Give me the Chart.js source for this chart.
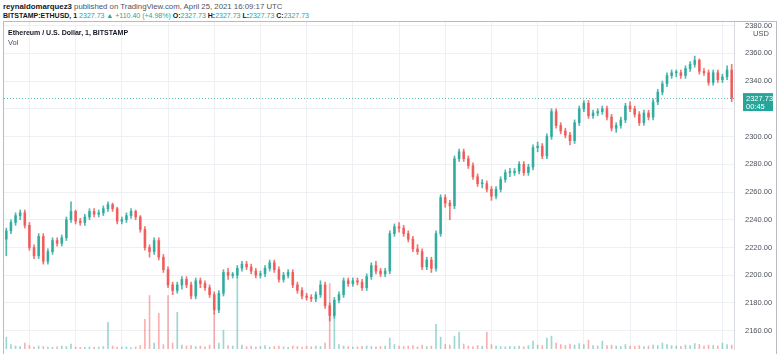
<!DOCTYPE html>
<html><head><meta charset="utf-8">
<script src="https://cdn.jsdelivr.net/npm/chart.js@4.4.1/dist/chart.umd.min.js"></script>
<style>
html,body{margin:0;padding:0;background:#fff;overflow:hidden;width:780px;height:354px;}
body{position:relative;font-family:"Liberation Sans",Arial,sans-serif;}
.t{position:absolute;left:3px;white-space:nowrap;line-height:9px;color:#50535e;}
#l1{top:2px;font-size:7.8px}
#l2{top:11px;font-size:7px}
.t b{color:#131722}
.g{color:#26a69a}
#pane{position:absolute;left:3px;top:21px;width:772px;height:340px;border:1px solid #b8bbc2;border-bottom:none}
#cv{position:absolute;left:4px;top:22px}
#leg1{position:absolute;left:8px;top:28px;font-size:7px;line-height:9px;font-weight:bold;color:#131722;white-space:nowrap}
#leg2{position:absolute;left:8px;top:38px;font-size:7.5px;line-height:9px;color:#50535e}
</style>
</head><body>
<div class="t" id="l1"><b>reynaldomarquez3</b> published on TradingView.com, April 25, 2021 16:09:17 UTC</div>
<div class="t" id="l2"><b>BITSTAMP:ETHUSD, 1</b> <span class="g">2327.73 ▲ +110.40 (+4.98%)</span> <b>O:</b><span class="g">2327.73</span> <b>H:</b><span class="g">2327.73</span> <b>L:</b><span class="g">2327.73</span> <b>C:</b><span class="g">2327.73</span></div>
<div id="pane"></div>
<canvas id="cv" width="772" height="350"></canvas>
<div id="leg1">Ethereum / U.S. Dollar, 1, BITSTAMP</div>
<div id="leg2">Vol</div>
<script>
const startTime = '08:15';
const stepMinutes = 3;
const opens = [2226,2232,2238,2243,2245,2236,2220,2214,2228,2210,
 2217,2225,2223,2227,2240,2246,2239,2238,2242,2246,
 2244,2245,2248,2251,2248,2239,2240,2243,2246,2242,
 2233,2220,2217,2225,2213,2204,2193,2189,2193,2197,
 2193,2185,2196,2194,2191,2186,2175,2187,2202,2200,
 2200,2205,2208,2206,2203,2200,2201,2205,2209,2204,
 2197,2200,2202,2193,2189,2185,2184,2183,2186,2193,
 2178,2171,2182,2186,2196,2194,2196,2195,2191,2199,
 2207,2203,2201,2203,2230,2235,2234,2230,2226,2219,
 2217,2206,2211,2205,2230,2256,2252,2250,2284,2289,
 2284,2279,2271,2266,2266,2262,2257,2262,2269,2274,
 2274,2275,2280,2274,2278,2292,2293,2286,2300,2318,
 2308,2304,2301,2297,2310,2320,2324,2315,2317,2318,
 2320,2314,2306,2308,2312,2322,2320,2316,2310,2317,
 2314,2325,2332,2338,2344,2346,2346,2344,2349,2352,
 2355,2347,2346,2339,2346,2341,2343,2348];
const highs = [2234,2240,2245,2247,2247,2238,2222,2230,2230,2219,
 2227,2227,2229,2242,2253,2247,2241,2244,2248,2248,
 2247,2250,2253,2252,2249,2242,2245,2248,2247,2243,
 2235,2222,2227,2227,2215,2206,2195,2195,2199,2199,
 2195,2198,2198,2196,2193,2188,2189,2204,2205,2202,
 2207,2210,2210,2208,2205,2203,2207,2211,2211,2206,
 2202,2204,2204,2195,2191,2187,2186,2188,2196,2195,
 2180,2184,2188,2198,2198,2198,2198,2197,2201,2209,
 2210,2205,2205,2232,2237,2238,2236,2232,2228,2222,
 2219,2213,2213,2232,2258,2258,2254,2286,2291,2291,
 2286,2281,2273,2269,2268,2264,2264,2271,2276,2277,
 2277,2282,2282,2280,2294,2296,2295,2302,2320,2320,
 2310,2306,2303,2312,2322,2326,2326,2319,2320,2322,
 2322,2316,2310,2314,2324,2325,2322,2318,2319,2319,
 2327,2334,2340,2346,2348,2348,2348,2351,2354,2358,
 2356,2349,2348,2348,2348,2345,2351,2352];
const lows = [2214,2230,2236,2240,2234,2218,2212,2212,2208,2208,
 2215,2221,2221,2225,2238,2237,2236,2236,2240,2242,
 2242,2243,2246,2246,2237,2237,2238,2241,2240,2231,
 2218,2213,2215,2211,2202,2191,2186,2187,2190,2191,
 2183,2183,2191,2189,2184,2172,2173,2185,2197,2198,
 2198,2203,2204,2201,2198,2198,2199,2203,2202,2195,
 2195,2198,2191,2187,2183,2182,2181,2181,2184,2176,
 2167,2169,2180,2184,2192,2192,2193,2189,2189,2197,
 2201,2199,2199,2201,2228,2231,2228,2224,2217,2215,
 2204,2204,2202,2203,2228,2249,2240,2248,2282,2282,
 2277,2269,2264,2263,2260,2254,2255,2260,2267,2271,
 2272,2273,2272,2272,2276,2289,2284,2284,2298,2306,
 2302,2299,2294,2295,2308,2318,2313,2313,2315,2316,
 2312,2304,2303,2306,2310,2318,2314,2308,2308,2312,
 2312,2323,2330,2336,2342,2343,2342,2342,2347,2350,
 2345,2344,2337,2337,2339,2339,2341,2325];
const closes = [2232,2238,2243,2245,2236,2220,2214,2228,2210,2217,
 2225,2223,2227,2240,2246,2239,2238,2242,2246,2244,
 2245,2248,2251,2248,2239,2240,2243,2246,2242,2233,
 2220,2217,2225,2213,2204,2193,2189,2193,2197,2193,
 2185,2196,2194,2191,2186,2175,2187,2202,2200,2200,
 2205,2208,2206,2203,2200,2201,2205,2209,2204,2197,
 2200,2202,2193,2189,2185,2184,2183,2186,2193,2178,
 2171,2182,2186,2196,2194,2196,2195,2191,2199,2207,
 2203,2201,2203,2230,2235,2234,2230,2226,2219,2217,
 2206,2211,2205,2230,2256,2252,2250,2284,2289,2284,
 2279,2271,2266,2266,2262,2257,2262,2269,2274,2274,
 2275,2280,2274,2278,2292,2293,2286,2300,2318,2308,
 2304,2301,2297,2310,2320,2324,2315,2317,2318,2320,
 2314,2306,2308,2312,2322,2320,2316,2310,2317,2314,
 2325,2332,2338,2344,2346,2346,2344,2349,2352,2355,
 2347,2346,2339,2346,2341,2343,2348,2327.73];
const volumes = [120,45,30,25,60,35,20,30,25,20,
 18,22,30,25,50,20,15,18,22,16,
 20,25,270,30,18,20,22,15,20,35,
 300,540,60,360,45,540,60,370,40,30,
 35,25,30,22,40,360,60,190,35,30,
 720,40,25,30,20,25,35,20,25,30,
 22,18,30,25,20,28,22,30,25,60,
 660,370,45,30,25,20,22,28,30,25,
 22,25,30,110,45,30,25,28,35,22,
 40,25,30,250,120,45,40,130,170,50,
 30,25,35,28,170,45,30,25,22,28,
 25,30,22,35,80,40,35,110,130,60,
 45,35,50,40,55,45,90,35,30,80,
 35,40,30,25,45,30,28,35,25,30,
 40,35,60,45,35,30,28,40,35,55,
 45,30,40,35,30,60,45,40];
const priceMin = 2146.8, priceMax = 2382.6, priceStep = 20;
const volMax = 3300;
const lastPrice = closes[closes.length - 1];
const countdown = '00:45';

const UP = 'rgba(38,166,154,0.8)', DOWN = 'rgba(239,83,80,0.8)';
const UPV = 'rgba(38,166,154,0.45)', DOWNV = 'rgba(239,83,80,0.45)';
const FONT = '"Liberation Sans", Arial, sans-serif';

const labels = closes.map((_, i) => {
  const [h, m] = startTime.split(':').map(Number);
  const t = h * 60 + m + i * stepMinutes;
  return String(Math.floor(t / 60)).padStart(2, '0') + ':' + String(t % 60).padStart(2, '0');
});
const isUp = closes.map((c, i) => c >= opens[i]);

const lastPricePlugin = {
  id: 'lastPrice',
  afterDatasetsDraw(chart) {
    const {ctx, chartArea: a, scales: {y}} = chart;
    const py = Math.round(y.getPixelForValue(lastPrice)) + 0.5;
    ctx.save();
    ctx.strokeStyle = 'rgba(38,166,154,0.75)';
    ctx.lineWidth = 1;
    ctx.setLineDash([1, 2]);
    ctx.beginPath(); ctx.moveTo(a.left, py); ctx.lineTo(a.right, py); ctx.stroke();
    ctx.restore();
  },
  afterDraw(chart) {
    const {ctx, chartArea: a, scales: {y}} = chart;
    const py = y.getPixelForValue(lastPrice);
    ctx.save();
    ctx.fillStyle = '#26a69a';
    ctx.fillRect(a.right + 9, py - 5, 30, 18);
    ctx.fillStyle = '#fff';
    ctx.font = '7.5px ' + FONT;
    ctx.textBaseline = 'middle';
    ctx.textAlign = 'left';
    ctx.fillText(lastPrice.toFixed(2), a.right + 12, py + 0.5);
    ctx.fillText(countdown, a.right + 12, py + 8.5);
    ctx.fillStyle = '#4c525e';
    ctx.textAlign = 'center';
    ctx.fillText('USD', a.right + 27, y.getPixelForValue(2380) + 8);
    ctx.restore();
  }
};

new Chart(document.getElementById('cv'), {
  type: 'bar',
  data: {
    labels,
    datasets: [
      {label: 'Vol', data: volumes, yAxisID: 'yv', backgroundColor: isUp.map(u => u ? UPV : DOWNV), barThickness: 1, grouped: false, order: 3},
      {label: 'wick', data: lows.map((l, i) => [l, highs[i]]), yAxisID: 'y', backgroundColor: isUp.map(u => u ? UP : DOWN), barThickness: 1, grouped: false, order: 2},
      {label: 'body', data: opens.map((o, i) => [o, closes[i]]), yAxisID: 'y', backgroundColor: isUp.map(u => u ? UP : DOWN), barThickness: 2, minBarLength: 1, grouped: false, order: 1}
    ]
  },
  options: {
    responsive: false, animation: false, devicePixelRatio: 1,
    layout: {padding: 0},
    plugins: {legend: {display: false}, tooltip: {enabled: false}},
    scales: {
      x: {
        offset: true,
        grid: {offset: false, color: '#eef0f4', drawTicks: false},
        border: {display: false},
        ticks: {autoSkip: false, maxRotation: 0, padding: 3, color: '#4c525e', font: {size: 7.5, family: FONT}},
        afterBuildTicks(s) { s.ticks = s.ticks.filter(t => { const l = labels[t.value]; return l.endsWith(':00') || l.endsWith(':30'); }); },
        afterFit(s) { s.height = 23; s.paddingLeft = 0; s.paddingRight = 0; }
      },
      y: {
        position: 'right', min: priceMin, max: priceMax,
        grid: {color: '#eef0f4', drawTicks: false},
        border: {display: true, color: '#d6d9df'},
        ticks: {stepSize: priceStep, includeBounds: false, padding: 11, color: '#4c525e', font: {size: 7.5, family: FONT}, callback: v => Number(v).toFixed(2)},
        afterFit(s) { s.width = 42; s.paddingTop = 0; s.paddingBottom = 0; }
      },
      yv: {display: false, min: 0, max: volMax}
    }
  },
  plugins: [lastPricePlugin]
});
</script>
</body></html>
